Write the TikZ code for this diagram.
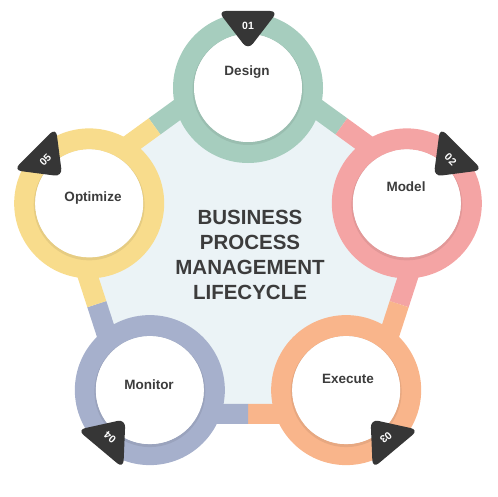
\documentclass[tikz,border=0pt]{standalone}
\usepackage{fontspec}
\setmainfont{Liberation Sans}
\usetikzlibrary{calc}
\definecolor{cgreen}{HTML}{A6CDBE}
\definecolor{cpink}{HTML}{F4A4A4}
\definecolor{corange}{HTML}{F9B58B}
\definecolor{cblue}{HTML}{A6B0CC}
\definecolor{cyellow}{HTML}{F8DC8C}
\definecolor{cdark}{HTML}{363636}
\definecolor{ctext}{HTML}{3C3C3C}
\definecolor{cfill}{HTML}{EBF3F6}
\tikzstyle{lbl}=[font=\bfseries\fontsize{13.5}{15}\selectfont,text=ctext,inner sep=0pt]
\tikzstyle{num}=[font=\bfseries\fontsize{10.5}{12}\selectfont,text=white,inner sep=0pt]
\tikzstyle{band}=[line width=20pt,line join=miter]
\tikzstyle{ring}=[line width=21pt]

\begin{document}
\begin{tikzpicture}[x=1pt,y=1pt]
\useasboundingbox (0,0) rectangle (498,496);
\coordinate (O) at (248,241);
\foreach \i/\a in {1/90,2/18,3/-54,4/-126,5/162}{
  \coordinate (v\i) at ($(O)+(\a:196.5)$);
  \coordinate (c\i) at ($(O)+(\a:167)$);
}
\coordinate (m12) at ($(v1)!.5!(v2)$);
\coordinate (m23) at ($(v2)!.5!(v3)$);
\coordinate (m34) at ($(v3)!.5!(v4)$);
\coordinate (m45) at ($(v4)!.5!(v5)$);
\coordinate (m51) at ($(v5)!.5!(v1)$);
% pentagon
\fill[cfill] (v1)--(v2)--(v3)--(v4)--(v5)--cycle;
\draw[band,cgreen] (m51)--(v1)--(m12);
\draw[band,cpink] (m12)--(v2)--(m23);
\draw[band,corange] (m23)--(v3)--(m34);
\draw[band,cblue] (m34)--(v4)--(m45);
\draw[band,cyellow] (m45)--(v5)--(m51);
% rings and discs
\foreach \i/\c in {1/cgreen,2/cpink,3/corange,4/cblue,5/cyellow}{
  \draw[ring,\c] (c\i) circle (64.5);
  \fill[black,opacity=.07] ($(c\i)+(0,-1.5)$) circle (55.5);
  \fill[white] (c\i) circle (54);
}
% badges
\foreach \i/\b/\t in {1/90/01,2/45/02,3/-50/03,4/-130/04,5/135/05}{
  \begin{scope}[shift={(c\i)},rotate=\b-90]
    \fill[cdark,rounded corners=8] (-30,77)--(30,77)--(0,38)--cycle;
    \node[num,transform shape] (n\i) at (0,62) {\t};
  \end{scope}
}
\node[lbl] (design) at (247,424) {Design};
\node[lbl] (model) at (406,309) {Model};
\node[lbl] (execute) at (348,117) {Execute};
\node[lbl] (monitor) at (149,111) {Monitor};
\node[lbl] (optimize) at (93,298) {Optimize};
\node[font=\bfseries\fontsize{20.5}{25}\selectfont,text=ctext,align=center] (title) at (250,241)
  {BUSINESS\\PROCESS\\MANAGEMENT\\LIFECYCLE};
\end{tikzpicture}
\end{document}
